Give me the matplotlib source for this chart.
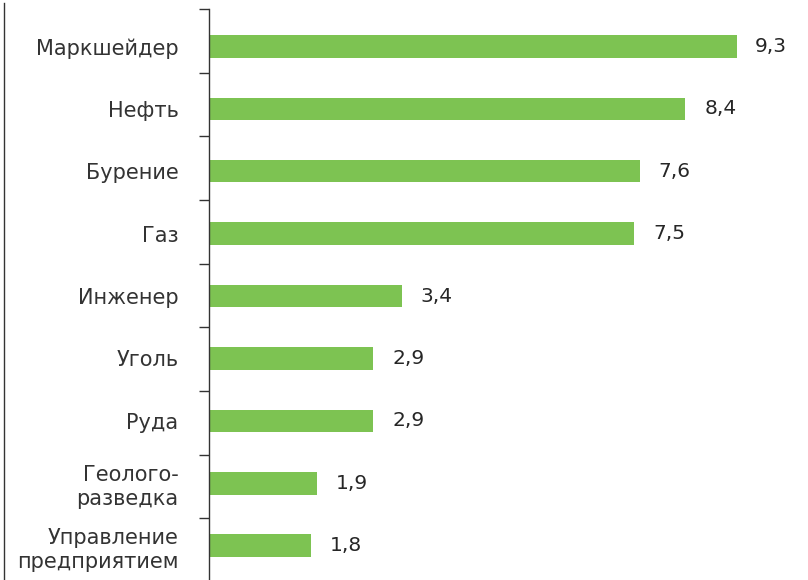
import numpy as np
import matplotlib
matplotlib.use("Agg")
import matplotlib.pyplot as plt
from matplotlib.lines import Line2D

categories = ["Маркшейдер", "Нефть", "Бурение", "Газ", "Инженер",
              "Уголь", "Руда", "Геолого-\nразведка", "Управление\nпредприятием"]
values = [9.3, 8.4, 7.6, 7.5, 3.4, 2.9, 2.9, 1.9, 1.8]
value_labels = ["9,3", "8,4", "7,6", "7,5", "3,4", "2,9", "2,9", "1,9", "1,8"]

W, H = 808, 580
fig = plt.figure(figsize=(W / 100, H / 100), dpi=100)
ax = fig.add_axes([209 / W, 0, 1 - 209 / W, 571 / H])

pos = np.arange(len(categories))
ax.barh(pos, values, height=0.36, color="#7DC352")

for p, v, lab in zip(pos, values, value_labels):
    ax.text(v + 0.33, p, lab, va="center", ha="left", fontsize=14.5,
            color="#262626", family="DejaVu Sans")

ax.set_xlim(0, 10.56)
ax.set_ylim(8.55, -0.6)

ax.set_yticks(pos)
ax.set_yticklabels(categories, fontsize=15, color="#333333",
                   family="DejaVu Sans", linespacing=1.25)
ax.tick_params(axis="y", which="major", length=0, pad=22)
ax.set_yticks(np.arange(9) * 1.02 - 0.6, minor=True)
ax.tick_params(axis="y", which="minor", length=7, width=1, color="#333333")
ax.set_xticks([])

for s in ["top", "right", "bottom"]:
    ax.spines[s].set_visible(False)
ax.spines["left"].set_color("#333333")
ax.spines["left"].set_linewidth(1)

fig.add_artist(Line2D([4 / W, 4 / W], [0, 1 - 3 / H], color="#333333", lw=1))

fig.savefig("out.png", dpi=100)
